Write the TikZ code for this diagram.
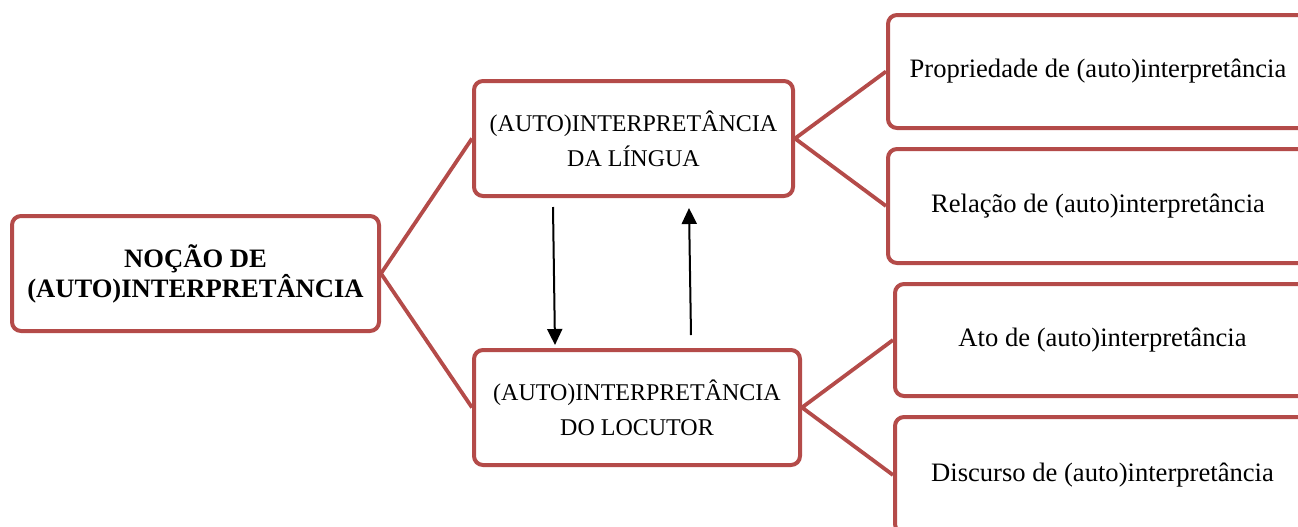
\documentclass[tikz,border=0pt]{standalone}
\usepackage{fontspec}
\setmainfont{Liberation Serif}
\usetikzlibrary{arrows.meta}
\definecolor{boxred}{RGB}{180,75,73}
\tikzset{
  box/.style={draw=boxred, line width=2pt, rounded corners=4.5pt, fill=white,
    inner sep=0pt, align=center, minimum height=57.5pt,
    font=\fontsize{12}{17.5}\selectfont},
  leafbox/.style={box, font=\fontsize{13.3}{16}\selectfont},
  bigbox/.style={box, font=\fontsize{13.3}{15}\selectfont\bfseries},
  link/.style={draw=boxred, line width=1.9pt},
  arr/.style={draw=black, line width=1pt, -{Triangle[length=8pt,width=7.5pt]}}
}
\begin{document}
\begin{tikzpicture}[x=0.5pt,y=-0.5pt]
\useasboundingbox (0,0) rectangle (1298,526);
\clip (0,0) rectangle (1298,526);
\node[bigbox, minimum width=183.5pt] (noc) at (195.5,273.5) {NOÇÃO DE\\(AUTO)INTERPRETÂNCIA};
\node[box, minimum width=159.5pt] (lin) at (633.5,138.5) {(AUTO)INTERPRETÂNCIA\\DA LÍNGUA};
\node[box, minimum width=163pt] (loc) at (637,407.5) {(AUTO)INTERPRETÂNCIA\\DO LOCUTOR};
\node[leafbox, minimum width=210pt, minimum height=56.5pt] (p1) at (1098,71.5) {Propriedade de (auto)interpretância};
\node[leafbox, minimum width=210pt, minimum height=57pt] (p2) at (1098,206) {Relação de (auto)interpretância};
\node[leafbox, minimum width=207.5pt, minimum height=56pt] (p3) at (1102.5,340) {Ato de (auto)interpretância};
\node[leafbox, minimum width=207.5pt, minimum height=58pt] (p4) at (1102.5,475) {Discurso de (auto)interpretância};
\draw[link] (lin.west) -- (noc.east) -- (loc.west);
\draw[link] (p1.west) -- (lin.east) -- (p2.west);
\draw[link] (p3.west) -- (loc.east) -- (p4.west);
\coordinate (d1) at (553,207);
\coordinate (d2) at (555,345);
\coordinate (u1) at (691,335);
\coordinate (u2) at (689,208);
\draw[arr] (d1) -- (d2);
\draw[arr] (u1) -- (u2);
\end{tikzpicture}
\end{document}
